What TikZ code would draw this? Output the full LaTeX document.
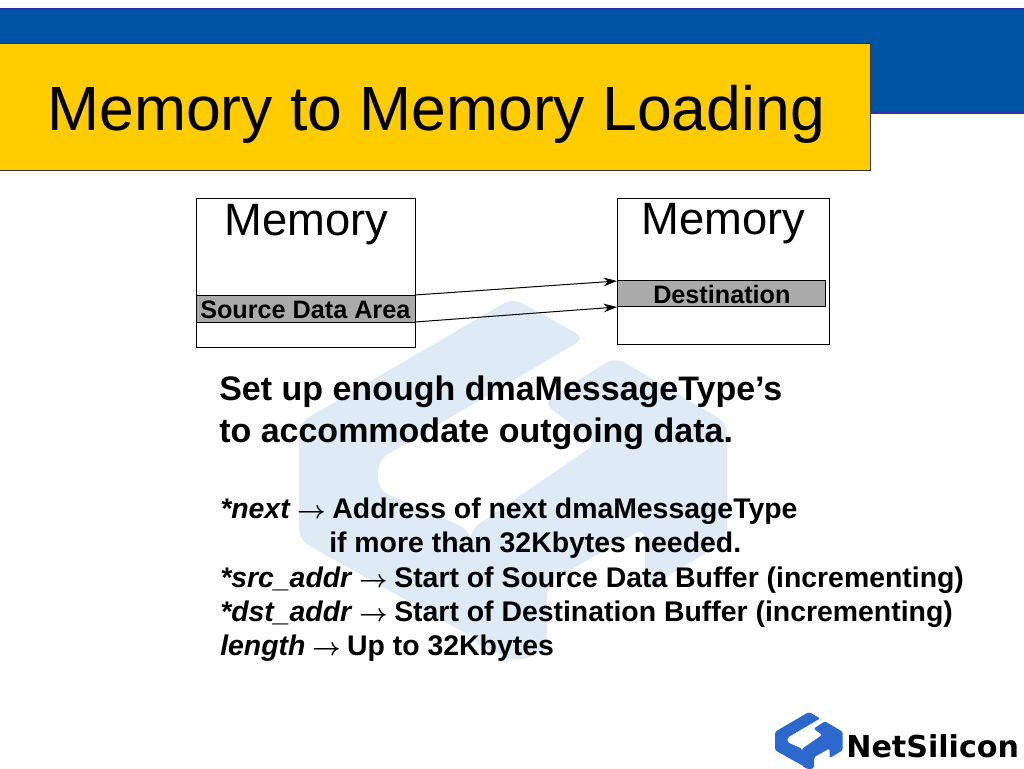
\documentclass[tikz,border=0pt]{standalone}
\usepackage{fontspec}
\usepackage{amsmath}
\usepackage{graphicx}
\setmainfont{Liberation Sans}
\newfontfamily\logofont{DejaVu Sans}
\usetikzlibrary{arrows.meta}
\definecolor{barblue}{RGB}{0,84,164}
\definecolor{barline}{RGB}{45,50,180}
\definecolor{titleyellow}{RGB}{255,204,0}
\definecolor{areagray}{RGB}{170,170,170}
\definecolor{markblue}{RGB}{222,234,246}
\definecolor{logoblue}{RGB}{45,105,205}
\newcommand{\arrowto}{\hspace{-1pt}\scalebox{0.9}{\mathversion{bold}$\rightarrow$}\hspace{-1pt}}
\tikzset{
  membox/.style={draw=black,line width=0.75pt,fill=white,inner sep=0pt,anchor=north west},
  area/.style={draw=black,line width=1pt,fill=areagray,inner sep=0pt,anchor=north west},
  lbl/.style={inner sep=0pt,anchor=base west},
  memlbl/.style={lbl,font=\fontsize{34}{36}\selectfont},
  arealbl/.style={lbl,font=\bfseries\fontsize{18.9}{20}\selectfont},
  bodylbl/.style={lbl,font=\bfseries\fontsize{21.3}{25}\selectfont},
  arr/.style={-{Stealth[length=10pt,width=6.5pt]},line width=0.75pt},
  pics/netmark/.style 2 args={code={
    \fill[#1,rounded corners=#2] (299,423) -- (513,298) -- (585,338) -- (378,460) -- (378,490) -- (470,530) -- (470,640) -- (517,662) -- (299,540) -- cycle;
    \fill[#1,rounded corners=#2] (470,530) -- (597,443) -- (543,403) -- (615,357) -- (727,423) -- (727,540) -- (645,590) -- (645,528) -- (547,583) -- (547,650) -- (517,662) -- (470,640) -- cycle;
  }},
}
\begin{document}
\begin{tikzpicture}[x=0.75pt,y=-0.75pt]
  \useasboundingbox (0,0) rectangle (1024,768);
  \fill[white] (0,0) rectangle (1024,768);
  % banner
  \fill[barblue] (0,9) rectangle (1024,113);
  \draw[barline,line width=1pt] (0,9) -- (1024,9);
  \draw[barline,line width=1.2pt] (870,113) -- (1024,113);
  \node[draw=black!80,line width=0.6pt,fill=titleyellow,minimum width=653.25pt,minimum height=95.25pt,inner sep=0pt,anchor=north west] (title) at (-1,42.5) {};
  \node[lbl,font=\fontsize{46.85}{50}\selectfont] (titletext) at (47,130) {Memory to Memory Loading};
  % watermark
  \pic at (0,0) {netmark={markblue}{8pt}};
  % left memory
  \node[membox,minimum width=164pt,minimum height=111.75pt] (memleft) at (196,198) {};
  \node[area,minimum width=164pt,minimum height=20pt] (source) at (196,295) {};
  \node[memlbl] (memlefttext) at (224,235) {Memory};
  \node[arealbl] (sourcetext) at (200,318) {Source Data Area};
  % right memory
  \node[membox,minimum width=159pt,minimum height=109.5pt] (memright) at (617,198) {};
  \node[area,minimum width=156pt,minimum height=19.5pt] (dest) at (617,280) {};
  \node[memlbl] (memrighttext) at (641,234) {Memory};
  \node[arealbl] (desttext) at (653,303) {Destination};
  % arrows
  \coordinate (s1) at (415,295);
  \coordinate (s2) at (415,322);
  \coordinate (d1) at (617,281);
  \coordinate (d2) at (617,307);
  \draw[arr] (s1) -- (d1);
  \draw[arr] (s2) -- (d2);
  % body text
  \node[lbl,font=\bfseries\fontsize{25.5}{31.5}\selectfont,align=left] (heading) at (219,442) {Set up enough dmaMessageType’s\\to accommodate outgoing data.};
  \node[bodylbl] (line1) at (220,518) {\textit{*next} \arrowto{} Address of next dmaMessageType};
  \node[bodylbl] (line2) at (329,552) {if more than 32Kbytes needed.};
  \node[bodylbl] (line3) at (220,587) {\textit{*src\_addr} \arrowto{} Start of Source Data Buffer (incrementing)};
  \node[bodylbl] (line4) at (220,621) {\textit{*dst\_addr} \arrowto{} Start of Destination Buffer (incrementing)};
  \node[bodylbl] (line5) at (220,655) {\textit{length} \arrowto{} Up to 32Kbytes};
  % logo
  \pic[xshift=545.85pt,yshift=-498.7pt,scale=0.158] at (0,0) {netmark={logoblue}{1.2pt}};
  \node[lbl,font=\logofont\bfseries\fontsize{22.6}{24}\selectfont] (logotext) at (846,757) {NetSilicon};
\end{tikzpicture}
\end{document}
